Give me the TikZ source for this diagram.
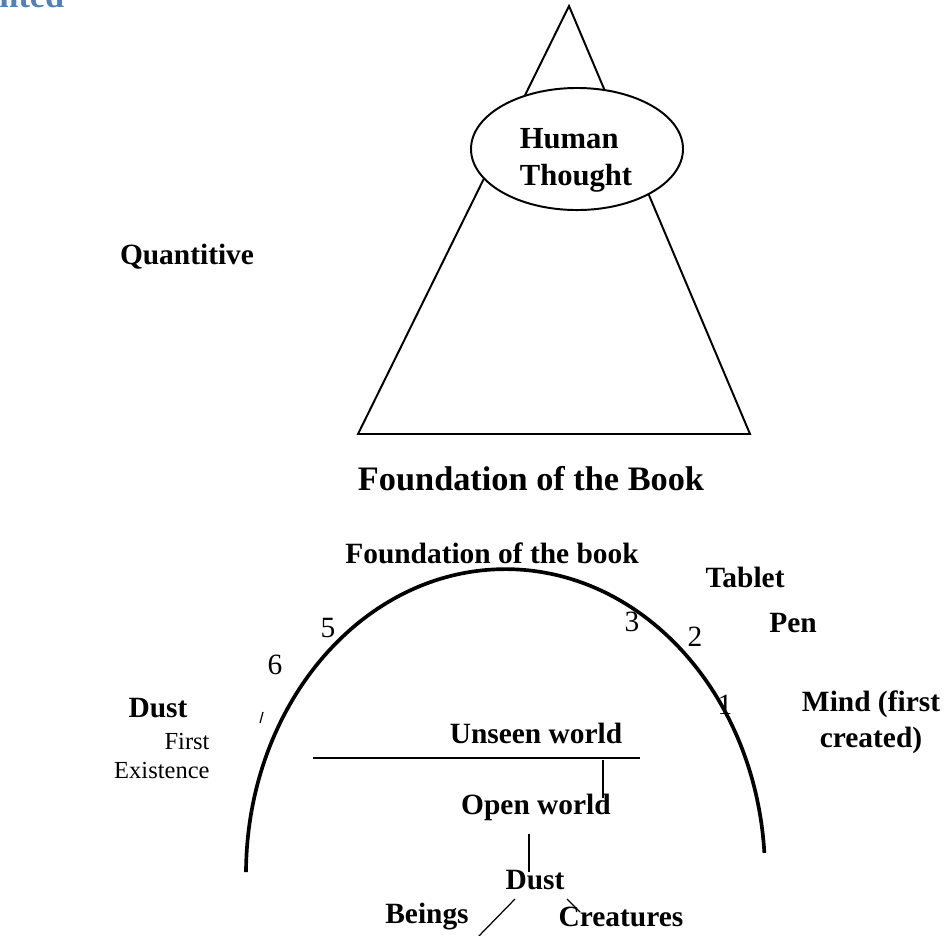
\documentclass[tikz,border=0pt]{standalone}
\usepackage{fontspec}
\setmainfont{Liberation Serif}
\usetikzlibrary{shapes,positioning}
\definecolor{headblue}{RGB}{79,129,189}
\tikzstyle{lbl} = [font=\fontsize{12}{14.5}\selectfont\bfseries, inner sep=0pt]
\tikzstyle{num} = [font=\fontsize{12}{14}\selectfont, inner sep=0pt]
\tikzstyle{oval} = [ellipse, draw, fill=white, line width=0.8pt, minimum width=86.5pt, minimum height=49.8pt, inner sep=0pt]
\tikzstyle{line} = [draw, line width=0.5pt]

\begin{document}
\begin{tikzpicture}[x=0.408pt, y=-0.408pt]
		\useasboundingbox (0,0) rectangle (945,935);

		% upper part
		\node [anchor=base west, inner sep=0pt, text=headblue, font=\fontsize{14}{17}\selectfont\bfseries] (heading) at (-1,7) {nted};
		\draw [line width=0.8pt] (569,6) -- (750,434) -- (358,434) -- cycle;
		\node [oval] (thought) at (577,149) {};
		\node [lbl, font=\fontsize{12.5}{15}\selectfont\bfseries, align=left] (thoughttxt) at (576,160) {Human\\Thought};
		\node [lbl] (quant) at (187,257) {Quantitive};
		\node [lbl, font=\fontsize{14}{17}\selectfont\bfseries] (foundation) at (531,479) {Foundation of the Book};

		% lower part
		\draw [line width=1.5pt] (246,872) arc [start angle=180.4, end angle=356, x radius=259.5, y radius=305];
		\node [lbl] (book) at (492,553) {Foundation of the book};
		\node [lbl] (tablet) at (745,577) {Tablet};
		\node [lbl] (pen) at (793,623) {Pen};
		\node [lbl, align=center] (mind) at (871,722) {Mind (first\\created)};
		\node [lbl] (dustl) at (158,708) {Dust};
		\node [font=\fontsize{10}{11.5}\selectfont, inner sep=0pt, align=right, anchor=east] (first) at (210,756) {First\\Existence};
		\node [num] (n5) at (328,628) {5};
		\node [num] (n6) at (275,665) {6};
		\node [num] (n3) at (632,622) {3};
		\node [num] (n2) at (695,637) {2};
		\node [num] (n1) at (725,705) {1};

		\node [lbl] (unseen) at (536,733) {Unseen world};
		\node [lbl] (open) at (536,807) {Open world};
		\node [lbl] (dust) at (535,880) {Dust};
		\node [lbl] (beings) at (427,917) {Beings};
		\node [lbl] (creatures) at (621,917) {Creatures};

		\coordinate (divl) at (313,758);
		\coordinate (divr) at (640,758);
		\coordinate (tick) at (603,760);
		\coordinate (ticke) at (603,798);
		\coordinate (opendown) at (529,834);
		\coordinate (dustin) at (529,872);
		\coordinate (bl) at (515,899);
		\coordinate (ble) at (475,940);
		\coordinate (cr) at (567,899);
		\coordinate (cre) at (580,912);
		\coordinate (sl) at (263,712);
		\coordinate (sle) at (260,723);

		\path [line, line width=0.7pt] (divl) -- (divr);
		\path [line] (tick) -- (ticke);
		\path [line] (opendown) -- (dustin);
		\path [line] (bl) -- (ble);
		\path [line] (cr) -- (cre);
		\path [line] (sl) -- (sle);
	\end{tikzpicture}
\end{document}
